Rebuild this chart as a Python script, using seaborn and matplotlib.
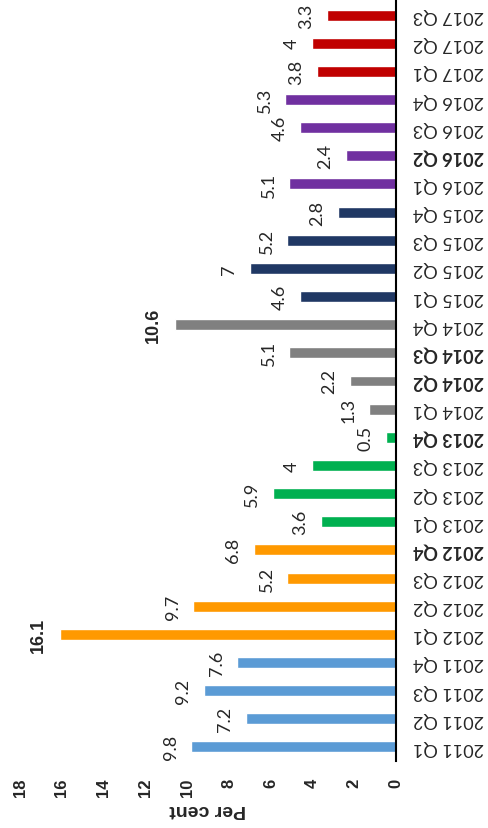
import matplotlib
matplotlib.use("Agg")
import matplotlib.pyplot as plt
import seaborn as sns
import pandas as pd

# --- data ---
quarters = [
    "2011 Q1", "2011 Q2", "2011 Q3", "2011 Q4",
    "2012 Q1", "2012 Q2", "2012 Q3", "2012 Q4",
    "2013 Q1", "2013 Q2", "2013 Q3", "2013 Q4",
    "2014 Q1", "2014 Q2", "2014 Q3", "2014 Q4",
    "2015 Q1", "2015 Q2", "2015 Q3", "2015 Q4",
    "2016 Q1", "2016 Q2", "2016 Q3", "2016 Q4",
    "2017 Q1", "2017 Q2", "2017 Q3",
]
growth = [
    9.8, 7.2, 9.2, 7.6,
    16.1, 9.7, 5.2, 6.8,
    3.6, 5.9, 4, 0.5,
    1.3, 2.2, 5.1, 10.6,
    4.6, 7, 5.2, 2.8,
    5.1, 2.4, 4.6, 5.3,
    3.8, 4, 3.3,
]
years = [q[:4] for q in quarters]
year_colors = {
    "2011": "#5B9BD5", "2012": "#FF9900", "2013": "#00B050", "2014": "#808080",
    "2015": "#203864", "2016": "#7030A0", "2017": "#C00000",
}
bold_quarters = ["2012 Q4", "2013 Q4", "2014 Q2", "2014 Q3", "2016 Q2"]
bold_value_quarters = ["2012 Q1", "2014 Q4"]
value_ticks = list(range(0, 19, 2))

df = pd.DataFrame({"quarter": quarters, "growth": growth, "year": years})

sns.set_style("white")
plt.rcParams["font.family"] = ["Lato", "DejaVu Sans"]

# chart is drawn turned on its side: baseline on the right, bars grow left
fig = plt.figure(figsize=(4.88, 8.29), dpi=100)
ax = fig.add_axes([20 / 488, 1 - 762 / 829, 376 / 488, 760 / 829])

sns.barplot(data=df, y="quarter", x="growth", hue="year", palette=year_colors,
            dodge=False, width=0.39, orient="h", saturation=1, legend=False, ax=ax)

ax.set_xlim(18, 0)
ax.set_ylim(-0.5, len(quarters) - 0.5)

# value axis (bottom)
ax.set_xticks(value_ticks, labels=[str(t) for t in value_ticks])
ax.tick_params(axis="x", length=0, pad=12)
for lbl in ax.get_xticklabels():
    lbl.set_rotation(90)
    lbl.set_fontweight("bold")
    lbl.set_family("Liberation Sans")
    lbl.set_fontsize(12)

# category axis (right, upside-down labels)
ax.yaxis.tick_right()
ax.set_yticks(range(len(quarters)), labels=quarters)
ax.tick_params(axis="y", length=0, pad=12)
for lbl in ax.get_yticklabels():
    lbl.set_rotation(180)
    lbl.set_ha("left")
    lbl.set_va("center")
    lbl.set_fontsize(13)
    if lbl.get_text() in bold_quarters:
        lbl.set_fontweight("bold")
ax.set_ylabel("")

ax.set_xlabel("Per cent", rotation=180, fontsize=14, fontweight="bold",
              family="Liberation Sans", va="center")
ax.xaxis.set_label_coords(0.5, -0.062)

# value labels
for i, (q, v) in enumerate(zip(quarters, growth)):
    if q in bold_value_quarters:
        kw = dict(fontweight="bold", family="Liberation Sans")
    else:
        kw = {}
    ax.annotate(f"{v:g}", xy=(v, i), xytext=(-9, 0), textcoords="offset points",
                rotation=90, ha="right", va="center", fontsize=13, **kw)

for s in ["top", "bottom", "left"]:
    ax.spines[s].set_visible(False)
ax.spines["right"].set_color("black")
ax.spines["right"].set_linewidth(1.5)

fig.savefig("out.png", dpi=100)
plt.close(fig)
